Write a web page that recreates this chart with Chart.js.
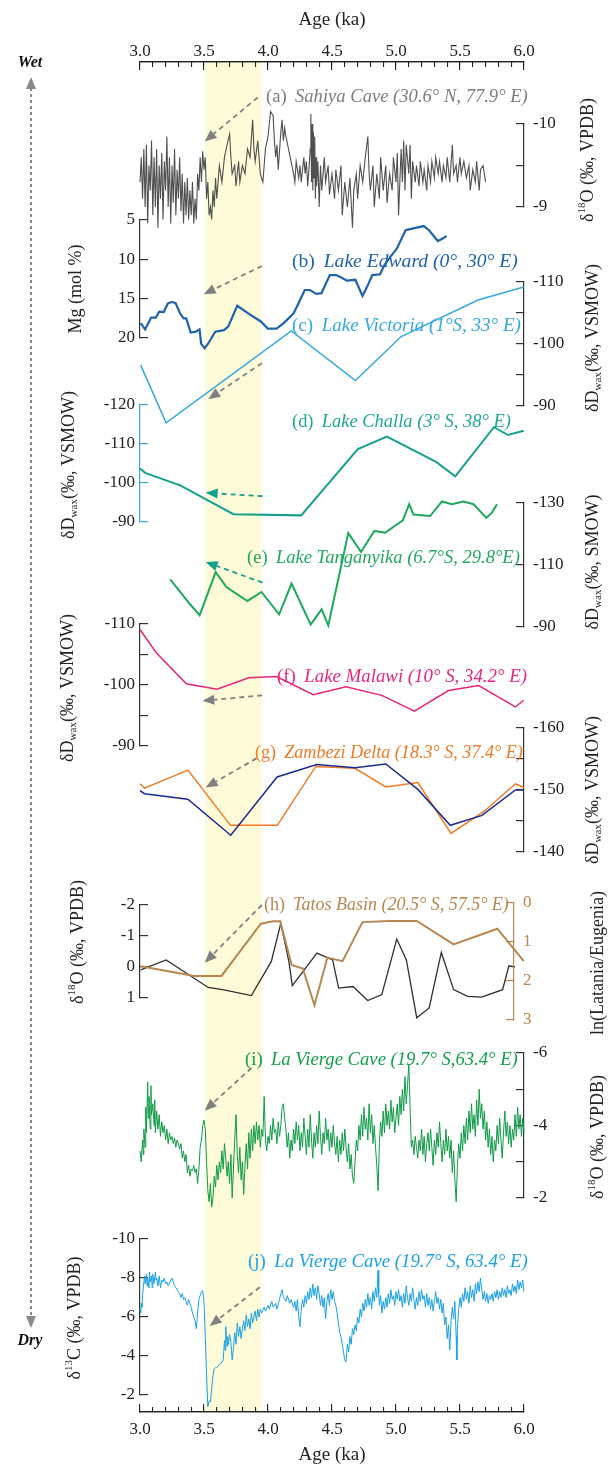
<!DOCTYPE html>
<html>
<head>
<meta charset="utf-8">
<script src="https://cdn.jsdelivr.net/npm/chart.js@4.4.1/dist/chart.umd.min.js"></script>
<style>
  html, body { margin: 0; padding: 0; background: #fff; }
  #wrap { position: relative; width: 608px; height: 1467px; overflow: hidden; }
  canvas { position: absolute; left: 0; }
</style>
</head>
<body>
<div id="wrap"></div>
<script>
// ---------- data (age in ka, value) ----------
const ageTicks = [3.0, 3.5, 4.0, 4.5, 5.0, 5.5, 6.0];
const ageMinorTicks = [3.0,3.1,3.2,3.3,3.4,3.5,3.6,3.7,3.8,3.9,4.0,4.1,4.2,4.3,4.4,4.5,4.6,4.7,4.8,4.9,5.0,5.1,5.2,5.3,5.4,5.5,5.6,5.7,5.8,5.9,6.0];
const yellowBand = [3.51, 3.95];

const sahiyaD18O = [[3.00,-9.3],[3.01,-9.6],[3.02,-9.1],[3.03,-9.7],[3.04,-9.0],[3.05,-9.75],[3.06,-8.8],[3.07,-9.5],[3.08,-9.2],[3.09,-9.8],[3.10,-8.9],[3.11,-9.6],[3.12,-9.0],[3.13,-9.7],[3.14,-8.75],[3.15,-9.5],[3.16,-9.1],[3.17,-9.65],[3.18,-8.85],[3.19,-9.55],[3.20,-9.2],[3.21,-9.85],[3.22,-9.0],[3.23,-9.6],[3.24,-8.8],[3.25,-9.5],[3.26,-9.05],[3.27,-9.7],[3.28,-8.9],[3.29,-9.45],[3.30,-9.1],[3.31,-9.6],[3.32,-8.95],[3.33,-9.4],[3.34,-8.8],[3.35,-9.3],[3.36,-8.9],[3.37,-9.35],[3.38,-8.85],[3.39,-9.2],[3.40,-8.9],[3.41,-9.3],[3.42,-8.8],[3.43,-9.1],[3.44,-8.85],[3.45,-9.4],[3.46,-9.2],[3.47,-9.6],[3.48,-9.3],[3.49,-9.67],[3.50,-9.45],[3.51,-9.6],[3.52,-9.1],[3.53,-9.3],[3.54,-8.9],[3.55,-9.0],[3.56,-8.85],[3.57,-9.2],[3.58,-9.0],[3.59,-9.35],[3.60,-9.1],[3.62,-9.5],[3.64,-9.3],[3.66,-9.6],[3.68,-9.75],[3.70,-9.88],[3.71,-9.6],[3.72,-9.4],[3.74,-9.5],[3.75,-9.25],[3.77,-9.55],[3.78,-9.3],[3.80,-9.5],[3.82,-9.4],[3.84,-9.7],[3.86,-9.6],[3.88,-10.05],[3.89,-9.7],[3.90,-9.55],[3.92,-9.8],[3.94,-9.4],[3.96,-9.3],[3.98,-9.7],[4.00,-9.85],[4.02,-10.15],[4.04,-10.1],[4.05,-9.8],[4.06,-9.6],[4.07,-9.75],[4.08,-9.45],[4.10,-9.9],[4.11,-10.05],[4.12,-9.8],[4.13,-9.95],[4.14,-9.85],[4.16,-9.7],[4.18,-9.55],[4.20,-9.4],[4.21,-9.3],[4.22,-9.55],[4.24,-9.35],[4.25,-9.5],[4.26,-9.3],[4.28,-9.6],[4.29,-9.4],[4.30,-9.55],[4.31,-9.25],[4.32,-9.45],[4.33,-9.7],[4.335,-10.12],[4.34,-9.3],[4.345,-10.0],[4.35,-9.2],[4.355,-9.9],[4.36,-9.35],[4.365,-9.85],[4.37,-9.1],[4.375,-9.6],[4.38,-9.25],[4.39,-9.55],[4.40,-9.0],[4.41,-9.5],[4.42,-9.2],[4.44,-9.6],[4.45,-9.3],[4.47,-9.5],[4.48,-9.15],[4.50,-9.4],[4.52,-9.1],[4.53,-9.45],[4.55,-9.2],[4.57,-9.5],[4.58,-8.9],[4.60,-9.3],[4.62,-9.0],[4.64,-9.35],[4.66,-8.75],[4.67,-9.2],[4.69,-9.4],[4.70,-9.1],[4.72,-9.5],[4.74,-9.3],[4.76,-9.6],[4.78,-9.85],[4.79,-9.4],[4.80,-9.2],[4.82,-9.5],[4.83,-9.0],[4.85,-9.4],[4.87,-9.1],[4.88,-9.6],[4.90,-9.2],[4.92,-9.5],[4.93,-9.05],[4.95,-9.4],[4.97,-9.2],[4.98,-9.6],[5.00,-9.3],[5.01,-9.65],[5.02,-8.9],[5.04,-9.7],[5.05,-9.3],[5.06,-9.8],[5.07,-9.2],[5.08,-9.75],[5.10,-9.4],[5.11,-9.75],[5.12,-9.1],[5.13,-9.55],[5.15,-9.3],[5.16,-9.5],[5.18,-9.25],[5.19,-9.55],[5.21,-9.3],[5.22,-9.45],[5.24,-9.2],[5.25,-9.5],[5.27,-9.3],[5.28,-9.55],[5.30,-9.35],[5.31,-9.6],[5.33,-9.4],[5.34,-9.55],[5.36,-9.3],[5.37,-9.5],[5.39,-9.35],[5.40,-9.6],[5.42,-9.3],[5.44,-9.75],[5.45,-9.4],[5.47,-9.5],[5.48,-9.3],[5.50,-9.6],[5.51,-9.4],[5.53,-9.55],[5.55,-9.35],[5.57,-9.5],[5.58,-9.2],[5.60,-9.45],[5.62,-9.3],[5.63,-9.55],[5.65,-9.2],[5.66,-9.45],[5.68,-9.5],[5.70,-9.3]];

const edwardMg = [[3.005,18.1],[3.04,18.9],[3.087,17.4],[3.123,17.4],[3.15,16.65],[3.186,16.7],[3.218,15.6],[3.251,15.4],[3.279,15.6],[3.314,16.9],[3.341,17.5],[3.361,17.5],[3.396,19.3],[3.437,19.2],[3.465,18.9],[3.478,20.75],[3.506,21.3],[3.533,20.7],[3.588,19.2],[3.656,19.0],[3.689,18.55],[3.76,15.9],[3.848,16.9],[3.944,17.9],[3.998,18.8],[4.067,18.8],[4.122,18.1],[4.199,16.9],[4.232,15.8],[4.287,13.9],[4.327,13.9],[4.377,14.4],[4.418,14.3],[4.483,12.0],[4.533,12.0],[4.56,12.2],[4.615,12.7],[4.683,12.6],[4.738,14.65],[4.774,13.5],[4.815,12.0],[4.875,11.9],[4.911,10.7],[4.957,9.66],[5.004,8.7],[5.075,6.3],[5.135,6.06],[5.217,5.77],[5.258,6.3],[5.327,7.67],[5.368,7.33],[5.395,7.03]];

const victoriaDwax = [[3.005,-96.6],[3.204,-87.3],[4.182,-102.1],[4.683,-94.1],[5.04,-101.2],[5.641,-107.1],[5.998,-109.2]];

const challaDwax = [[3.0,-103.7],[3.04,-102.6],[3.314,-99.4],[3.73,-92.0],[4.259,-91.7],[4.702,-108.7],[4.929,-111.9],[5.313,-105.4],[5.463,-101.7],[5.765,-114.3],[5.875,-112.3],[5.998,-113.4]];

const tanganyikaDwax = [[3.236,-105.4],[3.388,-97.5],[3.466,-93.8],[3.591,-107.7],[3.675,-102.9],[3.839,-98.4],[3.949,-101.3],[4.087,-94.1],[4.184,-104.0],[4.333,-90.8],[4.419,-95.7],[4.471,-90.5],[4.627,-120.3],[4.727,-114.2],[4.831,-121.0],[4.915,-120.4],[5.053,-124.4],[5.103,-129.6],[5.136,-126.3],[5.267,-125.8],[5.359,-130.5],[5.437,-129.6],[5.528,-130.5],[5.606,-129.6],[5.706,-125.2],[5.75,-126.9],[5.789,-129.6]];

const malawiDwax = [[3.0,-109.1],[3.127,-105.3],[3.362,-100.2],[3.602,-99.3],[3.85,-101.2],[4.066,-101.4],[4.353,-98.4],[4.609,-99.7],[4.889,-98.3],[5.144,-95.7],[5.41,-99.1],[5.645,-99.9],[5.933,-96.4],[5.998,-97.5]];

const zambeziA = [[3.0,-149.9],[3.035,-149.4],[3.374,-148.5],[3.709,-142.7],[4.071,-152.1],[4.38,-154.1],[4.68,-153.6],[4.92,-154.2],[5.171,-150.1],[5.424,-144.3],[5.672,-145.9],[5.933,-150.0],[6.0,-150.0]];
const zambeziB = [[3.0,-151.0],[3.035,-150.3],[3.374,-153.2],[3.707,-144.3],[4.073,-144.3],[4.373,-153.8],[4.68,-153.5],[4.92,-150.5],[5.171,-151.2],[5.43,-143.0],[5.685,-146.5],[5.933,-151.0],[6.0,-150.4]];

const tatosD18O = [[3.005,0.09],[3.204,-0.23],[3.533,0.66],[3.656,0.74],[3.87,0.92],[4.026,-0.18],[4.1,-1.41],[4.163,-0.18],[4.19,0.60],[4.382,-0.45],[4.505,-0.23],[4.552,0.68],[4.664,0.63],[4.779,1.08],[4.889,0.89],[5.006,-0.90],[5.081,-0.23],[5.162,1.64],[5.259,1.32],[5.354,-0.47],[5.45,0.73],[5.559,0.95],[5.669,0.97],[5.833,0.73],[5.882,-0.04],[5.929,0.0]];
const tatosLnLE = [[3.005,1.62],[3.424,1.87],[3.637,1.87],[3.944,0.53],[4.04,0.47],[4.095,0.47],[4.185,1.59],[4.272,1.68],[4.363,2.62],[4.464,1.40],[4.582,1.49],[4.738,0.49],[4.957,0.46],[5.162,0.46],[5.45,1.06],[5.792,0.66],[5.998,1.49]];

const vierged18O = [[3.00,-3.3],[3.01,-3.0],[3.02,-3.6],[3.025,-3.2],[3.03,-3.9],[3.04,-3.4],[3.045,-4.5],[3.05,-3.8],[3.06,-5.2],[3.065,-4.2],[3.07,-4.8],[3.08,-3.9],[3.085,-5.1],[3.09,-4.3],[3.10,-4.6],[3.11,-4.0],[3.115,-4.7],[3.12,-3.8],[3.13,-4.4],[3.14,-3.9],[3.15,-4.3],[3.16,-3.7],[3.17,-4.1],[3.18,-3.8],[3.19,-4.0],[3.20,-3.6],[3.21,-3.9],[3.22,-3.5],[3.23,-3.8],[3.24,-3.6],[3.25,-3.7],[3.26,-3.5],[3.27,-3.65],[3.28,-3.4],[3.29,-3.6],[3.30,-3.5],[3.31,-3.35],[3.32,-3.5],[3.33,-3.1],[3.34,-3.3],[3.35,-3.0],[3.36,-3.2],[3.37,-2.7],[3.38,-2.9],[3.39,-2.6],[3.40,-2.8],[3.41,-2.75],[3.42,-2.9],[3.43,-2.7],[3.44,-2.8],[3.45,-2.4],[3.46,-2.8],[3.47,-3.4],[3.48,-3.6],[3.49,-4.0],[3.50,-4.15],[3.51,-3.9],[3.52,-3.0],[3.53,-2.2],[3.54,-1.9],[3.55,-2.4],[3.56,-1.75],[3.57,-2.0],[3.58,-2.6],[3.59,-2.3],[3.60,-2.9],[3.61,-2.5],[3.62,-3.0],[3.63,-2.7],[3.64,-3.3],[3.65,-2.8],[3.66,-3.5],[3.67,-3.1],[3.68,-2.6],[3.69,-3.0],[3.70,-2.4],[3.71,-3.2],[3.72,-2.0],[3.73,-2.8],[3.74,-3.6],[3.75,-4.3],[3.76,-3.2],[3.77,-2.7],[3.78,-3.4],[3.79,-2.5],[3.80,-3.0],[3.81,-2.1],[3.82,-2.9],[3.83,-3.5],[3.84,-2.8],[3.85,-3.8],[3.86,-3.1],[3.87,-3.9],[3.88,-3.3],[3.89,-4.0],[3.90,-3.5],[3.91,-4.1],[3.92,-3.6],[3.93,-4.0],[3.94,-3.4],[3.95,-3.9],[3.96,-3.7],[3.97,-4.8],[3.98,-3.6],[3.99,-3.3],[4.00,-3.7],[4.01,-3.5],[4.02,-4.0],[4.03,-3.6],[4.04,-4.2],[4.05,-3.8],[4.06,-3.9],[4.07,-3.5],[4.08,-4.1],[4.09,-3.7],[4.10,-4.0],[4.11,-4.5],[4.12,-4.6],[4.13,-4.2],[4.14,-3.9],[4.15,-3.4],[4.16,-3.8],[4.17,-3.1],[4.18,-3.6],[4.19,-3.3],[4.20,-3.9],[4.21,-3.5],[4.22,-4.1],[4.23,-3.6],[4.24,-4.0],[4.25,-3.3],[4.26,-3.8],[4.27,-3.4],[4.28,-4.2],[4.29,-3.7],[4.30,-3.2],[4.31,-3.9],[4.32,-3.4],[4.33,-4.3],[4.34,-3.6],[4.35,-3.1],[4.36,-3.8],[4.37,-3.4],[4.38,-4.0],[4.39,-3.5],[4.40,-4.4],[4.41,-3.7],[4.42,-3.2],[4.43,-3.8],[4.44,-3.5],[4.45,-4.2],[4.46,-3.6],[4.47,-3.9],[4.48,-3.3],[4.49,-3.8],[4.50,-3.4],[4.51,-4.0],[4.52,-3.5],[4.53,-3.2],[4.54,-3.7],[4.55,-3.0],[4.56,-3.6],[4.57,-3.2],[4.58,-3.8],[4.59,-3.3],[4.60,-3.9],[4.61,-3.4],[4.62,-3.0],[4.63,-3.5],[4.64,-2.8],[4.65,-3.2],[4.66,-2.6],[4.67,-2.4],[4.68,-3.0],[4.69,-3.6],[4.70,-3.3],[4.71,-4.0],[4.72,-3.6],[4.73,-4.3],[4.74,-3.7],[4.75,-4.5],[4.76,-3.9],[4.77,-4.2],[4.78,-3.6],[4.79,-4.6],[4.80,-3.8],[4.81,-4.3],[4.82,-3.5],[4.83,-4.0],[4.84,-3.4],[4.85,-2.9],[4.86,-2.2],[4.87,-3.5],[4.88,-4.1],[4.89,-3.7],[4.90,-4.4],[4.91,-3.8],[4.92,-4.6],[4.93,-4.0],[4.94,-4.4],[4.95,-3.9],[4.96,-4.7],[4.97,-4.1],[4.98,-4.5],[4.99,-3.8],[5.00,-4.2],[5.01,-4.6],[5.02,-4.0],[5.03,-4.8],[5.04,-4.3],[5.05,-5.0],[5.06,-4.4],[5.07,-5.35],[5.08,-4.6],[5.09,-5.1],[5.10,-5.7],[5.11,-4.5],[5.12,-3.4],[5.13,-3.6],[5.14,-3.2],[5.15,-3.7],[5.16,-3.4],[5.17,-3.1],[5.18,-3.6],[5.19,-3.3],[5.20,-3.9],[5.21,-3.2],[5.22,-3.7],[5.23,-3.0],[5.24,-3.5],[5.25,-3.8],[5.26,-3.3],[5.27,-3.9],[5.28,-3.4],[5.29,-2.9],[5.30,-3.6],[5.31,-3.2],[5.32,-3.8],[5.33,-3.4],[5.34,-4.1],[5.35,-3.5],[5.36,-3.0],[5.37,-3.6],[5.38,-3.2],[5.39,-3.9],[5.40,-3.3],[5.41,-3.7],[5.42,-3.1],[5.43,-3.6],[5.44,-2.7],[5.45,-3.3],[5.46,-2.5],[5.47,-1.9],[5.48,-2.9],[5.49,-3.5],[5.50,-3.1],[5.51,-3.8],[5.52,-3.3],[5.53,-4.0],[5.54,-3.5],[5.55,-4.2],[5.56,-3.6],[5.57,-4.4],[5.58,-3.8],[5.59,-4.6],[5.60,-3.9],[5.61,-4.3],[5.62,-3.7],[5.63,-4.7],[5.64,-4.0],[5.65,-5.0],[5.66,-4.2],[5.67,-4.6],[5.68,-3.9],[5.69,-4.4],[5.70,-3.6],[5.71,-4.1],[5.72,-3.4],[5.73,-3.9],[5.74,-3.2],[5.75,-3.7],[5.76,-3.0],[5.77,-3.6],[5.78,-3.3],[5.79,-4.0],[5.80,-3.5],[5.81,-4.2],[5.82,-3.6],[5.83,-3.1],[5.84,-3.8],[5.85,-4.4],[5.86,-3.7],[5.87,-4.1],[5.88,-3.5],[5.89,-4.0],[5.90,-3.4],[5.91,-3.9],[5.92,-3.6],[5.93,-4.3],[5.94,-3.7],[5.95,-4.5],[5.96,-3.9],[5.97,-4.3],[5.98,-3.7],[5.99,-4.2],[6.00,-3.8]];

const vierged13C = [[3.000,-6.4],[3.005,-6.2],[3.01,-6.7],[3.015,-6.5],[3.02,-7.1],[3.03,-7.8],[3.035,-8.1],[3.04,-7.7],[3.05,-8.2],[3.055,-7.6],[3.06,-8.0],[3.07,-7.5],[3.075,-8.3],[3.08,-7.8],[3.09,-8.1],[3.095,-7.5],[3.10,-8.2],[3.11,-7.7],[3.12,-8.3],[3.125,-7.9],[3.13,-8.0],[3.14,-7.6],[3.15,-8.1],[3.16,-7.5],[3.17,-7.9],[3.18,-7.8],[3.19,-8.0],[3.20,-7.7],[3.21,-7.8],[3.22,-7.6],[3.23,-7.7],[3.24,-7.9],[3.25,-8.0],[3.26,-7.8],[3.27,-7.6],[3.28,-7.5],[3.30,-7.3],[3.31,-7.2],[3.32,-7.0],[3.33,-7.2],[3.34,-6.9],[3.35,-7.0],[3.36,-6.8],[3.37,-6.6],[3.38,-6.9],[3.39,-6.7],[3.40,-6.5],[3.41,-6.2],[3.42,-6.0],[3.43,-5.8],[3.44,-5.4],[3.45,-6.2],[3.46,-6.9],[3.47,-7.1],[3.48,-7.3],[3.49,-7.35],[3.50,-6.8],[3.51,-5.0],[3.52,-3.0],[3.53,-1.4],[3.54,-1.7],[3.55,-1.65],[3.56,-2.3],[3.57,-3.0],[3.58,-3.35],[3.59,-3.4],[3.60,-3.4],[3.61,-3.5],[3.62,-3.55],[3.63,-3.6],[3.64,-3.7],[3.65,-3.8],[3.66,-4.8],[3.665,-4.3],[3.67,-5.5],[3.68,-4.5],[3.685,-5.0],[3.69,-4.6],[3.70,-5.1],[3.71,-4.7],[3.72,-3.8],[3.73,-4.4],[3.74,-5.2],[3.75,-4.6],[3.76,-5.7],[3.77,-5.0],[3.78,-5.5],[3.79,-4.9],[3.80,-5.4],[3.81,-5.8],[3.82,-5.3],[3.83,-6.1],[3.84,-5.5],[3.85,-5.9],[3.86,-5.4],[3.87,-6.2],[3.88,-5.7],[3.89,-6.0],[3.90,-6.3],[3.91,-5.8],[3.92,-6.4],[3.93,-6.0],[3.94,-6.4],[3.95,-6.2],[3.97,-6.5],[3.98,-6.3],[4.00,-6.6],[4.01,-6.4],[4.03,-6.8],[4.04,-6.5],[4.06,-6.7],[4.07,-6.4],[4.09,-6.9],[4.10,-7.2],[4.11,-7.4],[4.12,-7.0],[4.14,-6.8],[4.15,-7.1],[4.17,-6.7],[4.18,-6.9],[4.20,-6.5],[4.21,-6.8],[4.22,-6.3],[4.23,-6.9],[4.24,-6.0],[4.25,-5.5],[4.26,-6.4],[4.27,-6.9],[4.28,-6.5],[4.29,-7.1],[4.30,-6.7],[4.31,-7.3],[4.32,-6.9],[4.33,-7.5],[4.34,-7.0],[4.35,-7.7],[4.36,-7.1],[4.37,-7.5],[4.38,-6.9],[4.39,-7.6],[4.40,-7.2],[4.41,-6.6],[4.42,-7.1],[4.43,-6.5],[4.44,-7.0],[4.45,-5.9],[4.46,-6.8],[4.47,-7.2],[4.48,-6.6],[4.49,-7.4],[4.50,-6.9],[4.51,-7.3],[4.52,-6.8],[4.53,-6.6],[4.54,-6.2],[4.55,-5.7],[4.56,-5.2],[4.57,-5.0],[4.58,-4.6],[4.59,-4.2],[4.60,-3.8],[4.61,-3.7],[4.62,-4.6],[4.63,-4.2],[4.64,-5.0],[4.65,-4.6],[4.66,-5.4],[4.67,-5.1],[4.68,-5.6],[4.69,-5.3],[4.70,-6.0],[4.71,-5.7],[4.72,-6.4],[4.73,-6.0],[4.74,-6.7],[4.75,-6.3],[4.76,-6.9],[4.77,-6.5],[4.78,-7.2],[4.79,-6.6],[4.80,-7.0],[4.81,-6.4],[4.82,-7.3],[4.83,-6.8],[4.84,-7.5],[4.85,-7.0],[4.86,-8.4],[4.865,-7.2],[4.87,-6.6],[4.88,-7.1],[4.89,-6.2],[4.90,-6.8],[4.91,-6.4],[4.92,-7.0],[4.93,-6.5],[4.94,-7.2],[4.95,-6.7],[4.96,-7.4],[4.97,-6.9],[4.98,-7.1],[4.99,-6.6],[5.00,-7.3],[5.01,-6.9],[5.02,-7.4],[5.03,-6.8],[5.04,-7.1],[5.05,-6.5],[5.06,-7.2],[5.07,-6.7],[5.08,-7.6],[5.09,-7.0],[5.10,-6.6],[5.11,-7.2],[5.12,-6.8],[5.13,-7.5],[5.14,-6.9],[5.15,-6.4],[5.16,-7.0],[5.17,-6.6],[5.18,-7.3],[5.19,-6.8],[5.20,-7.4],[5.21,-6.9],[5.22,-7.1],[5.23,-6.5],[5.24,-7.2],[5.25,-6.6],[5.26,-7.0],[5.27,-6.4],[5.28,-6.9],[5.29,-6.3],[5.30,-6.8],[5.31,-7.3],[5.32,-6.7],[5.33,-7.0],[5.34,-6.4],[5.35,-6.9],[5.36,-6.2],[5.37,-6.7],[5.38,-5.6],[5.39,-6.0],[5.40,-4.9],[5.41,-5.6],[5.42,-4.3],[5.43,-5.8],[5.44,-6.5],[5.45,-5.9],[5.46,-6.8],[5.47,-5.0],[5.475,-3.8],[5.48,-5.5],[5.49,-6.4],[5.50,-7.0],[5.51,-6.5],[5.52,-7.2],[5.53,-6.8],[5.54,-7.5],[5.55,-6.9],[5.56,-7.3],[5.57,-6.7],[5.58,-7.6],[5.59,-7.0],[5.60,-7.4],[5.61,-6.8],[5.62,-7.7],[5.63,-7.2],[5.64,-7.8],[5.65,-7.3],[5.66,-8.0],[5.67,-7.4],[5.68,-6.9],[5.69,-7.3],[5.70,-6.8],[5.71,-7.2],[5.72,-6.7],[5.73,-7.1],[5.74,-6.9],[5.75,-7.2],[5.76,-6.8],[5.77,-7.3],[5.78,-7.0],[5.79,-7.4],[5.80,-6.9],[5.81,-7.3],[5.82,-7.0],[5.83,-7.5],[5.84,-7.1],[5.85,-7.4],[5.86,-7.0],[5.87,-7.6],[5.88,-7.2],[5.89,-7.4],[5.90,-7.1],[5.91,-7.7],[5.92,-7.3],[5.93,-7.6],[5.94,-7.2],[5.95,-7.9],[5.96,-7.4],[5.97,-7.8],[5.98,-7.5],[5.99,-7.9],[6.00,-7.3]];

// ---------- layout ----------
const FONT = '"Liberation Serif", "Times New Roman", serif';
const W = 608, H = 1467;
const X0 = 140, X1 = 524;          // pixel of 3.0 ka and 6.0 ka
const PX_PER_KA = (X1 - X0) / 3;
const PAD = 40;
const wrap = document.getElementById('wrap');

function addCanvas(top, height) {
  const c = document.createElement('canvas');
  c.width = W; c.height = height;
  c.style.top = top + 'px';
  c.style.width = W + 'px'; c.style.height = height + 'px';
  wrap.appendChild(c);
  return c;
}

// rotated rich text (supports sup/sub parts), centered on (cx, cy)
function drawRich(ctx, parts, cx, cy, size, color) {
  ctx.save();
  ctx.translate(cx, cy);
  ctx.rotate(-Math.PI / 2);
  ctx.fillStyle = color;
  ctx.textBaseline = 'middle';
  const fonts = parts.map(p => (p[1] ? Math.round(size * 0.62) : size) + 'px ' + FONT);
  let w = 0;
  parts.forEach((p, i) => { ctx.font = fonts[i]; w += ctx.measureText(p[0]).width; });
  let x = -w / 2;
  parts.forEach((p, i) => {
    ctx.font = fonts[i];
    const dy = p[1] === 'sup' ? -size * 0.33 : p[1] === 'sub' ? size * 0.3 : 0;
    ctx.textAlign = 'left';
    ctx.fillText(p[0], x, dy);
    x += ctx.measureText(p[0]).width;
  });
  ctx.restore();
}

function drawLabel(ctx, lab, offY) {
  ctx.save();
  const widthAt = s => {
    ctx.font = s + 'px ' + FONT;
    const a = ctx.measureText(lab.tag).width;
    ctx.font = 'italic ' + s + 'px ' + FONT;
    return a + s * 0.45 + ctx.measureText(lab.name).width;
  };
  const size = 16 * (lab.x1 - lab.x0) / widthAt(16);
  ctx.fillStyle = lab.color;
  ctx.textBaseline = 'middle';
  ctx.textAlign = 'left';
  ctx.font = size + 'px ' + FONT;
  ctx.fillText(lab.tag, lab.x0, lab.y - offY);
  const x = lab.x0 + ctx.measureText(lab.tag).width + size * 0.45;
  ctx.font = 'italic ' + size + 'px ' + FONT;
  ctx.fillText(lab.name, x, lab.y - offY);
  ctx.restore();
}

function drawArrow(ctx, x1, y1, x2, y2, color) {
  const ang = Math.atan2(y2 - y1, x2 - x1), L = 12, HW = 5;
  const bx = x2 - L * Math.cos(ang), by = y2 - L * Math.sin(ang);
  ctx.save();
  ctx.strokeStyle = color; ctx.fillStyle = color; ctx.lineWidth = 1.8;
  ctx.setLineDash([5, 4]);
  ctx.beginPath(); ctx.moveTo(x1, y1); ctx.lineTo(bx, by); ctx.stroke();
  ctx.setLineDash([]);
  ctx.beginPath();
  ctx.moveTo(x2, y2);
  ctx.lineTo(bx + HW * Math.sin(ang), by - HW * Math.cos(ang));
  ctx.lineTo(bx - HW * Math.sin(ang), by + HW * Math.cos(ang));
  ctx.closePath(); ctx.fill();
  ctx.restore();
}

const DWAX = (tail) => [['δD', ''], ['wax', 'sub'], [tail, '']];
const D18O = [['δ', ''], ['18', 'sup'], ['O (‰, VPDB)', '']];

const panels = [
  { side: 'right', yTop: 124, yBottom: 207, min: -10, max: -9, ticks: [-10, -9.5, -9], labels: [-10, -9],
    series: [{ data: sahiyaD18O, color: '#505050', width: 1.1 }],
    title: { parts: D18O, x: 588, y: 160 },
    label: { tag: '(a)', name: 'Sahiya Cave (30.6° N, 77.9° E)', x0: 266, x1: 528, y: 97, color: '#7d7d7d' },
    arrow: { from: [3.92, -10.32], to: [3.505, -9.79], color: '#808080' } },
  { side: 'left', yTop: 220, yBottom: 338, min: 5, max: 20, ticks: [5, 10, 15, 20], labels: [5, 10, 15, 20],
    series: [{ data: edwardMg, color: '#1f62ad', width: 2.2 }],
    title: { parts: [['Mg (mol %)', '']], x: 76, y: 289 },
    label: { tag: '(b)', name: 'Lake Edward (0°, 30° E)', x0: 292, x1: 518, y: 262, color: '#1f62ad' },
    arrow: { from: [3.952, 10.85], to: [3.497, 14.44], color: '#808080' } },
  { side: 'right', yTop: 282, yBottom: 406, min: -110, max: -90, ticks: [-110, -105, -100, -95, -90], labels: [-110, -100, -90],
    series: [{ data: victoriaDwax, color: '#35a8e2', width: 1.5 }],
    title: { parts: DWAX('(‰, VSMOW)'), x: 593, y: 338 },
    label: { tag: '(c)', name: 'Lake Victoria (1°S, 33° E)', x0: 292, x1: 521, y: 326, color: '#35a8e2' },
    arrow: { from: [3.952, -96.9], to: [3.533, -91.1], color: '#808080' } },
  { side: 'left', yTop: 405, yBottom: 522, min: -120, max: -90, ticks: [-120, -110, -100, -90], labels: [-120, -110, -100, -90],
    axisColor: '#35a8e2',
    series: [{ data: challaDwax, color: '#16a08e', width: 2 }],
    title: { parts: DWAX('(‰, VSMOW)'), x: 69, y: 465 },
    label: { tag: '(d)', name: 'Lake Challa (3° S, 38° E)', x0: 292, x1: 511, y: 422, color: '#1ea596' },
    arrow: { from: [3.957, -96.6], to: [3.513, -97.5], color: '#16a08e' } },
  { side: 'right', yTop: 503, yBottom: 627, min: -130, max: -90, ticks: [-130, -110, -90], labels: [-130, -110, -90],
    series: [{ data: tanganyikaDwax, color: '#1fa85e', width: 2 }],
    title: { parts: DWAX('(‰, SMOW)'), x: 593, y: 562 },
    label: { tag: '(e)', name: 'Lake Tanganyika (6.7°S, 29.8°E)', x0: 247, x1: 520, y: 558, color: '#22a862' },
    arrow: { from: [3.957, -104.3], to: [3.513, -111.0], color: '#16a08e' } },
  { side: 'left', yTop: 624, yBottom: 746, min: -110, max: -90, ticks: [-110, -105, -100, -95, -90], labels: [-110, -100, -90],
    series: [{ data: malawiDwax, color: '#e8257a', width: 1.5 }],
    title: { parts: DWAX('(‰, VSMOW)'), x: 68, y: 688 },
    label: { tag: '(f)', name: 'Lake Malawi (10° S, 34.2° E)', x0: 277, x1: 527, y: 677, color: '#e8257a' },
    arrow: { from: [3.954, -98.3], to: [3.487, -97.4], color: '#808080' } },
  { side: 'right', yTop: 728, yBottom: 852, min: -160, max: -140, ticks: [-160, -155, -150, -145, -140], labels: [-160, -150, -140],
    series: [{ data: zambeziA, color: '#1b2c8f', width: 1.5 }, { data: zambeziB, color: '#f07a26', width: 1.5 }],
    title: { parts: DWAX('(‰, VSMOW)'), x: 593, y: 790 },
    label: { tag: '(g)', name: 'Zambezi Delta (18.3° S, 37.4° E)', x0: 255, x1: 523, y: 753, color: '#f07a26' },
    arrow: { from: [3.91, -155.1], to: [3.513, -150.4], color: '#808080' } },
  { side: 'left', yTop: 905, yBottom: 998, min: -2, max: 1, ticks: [-2, -1, 0, 1], labels: [-2, -1, 0, 1],
    series: [{ data: tatosD18O, color: '#2e2e2e', width: 1.3 }],
    title: { parts: D18O, x: 78, y: 942 },
    label: { tag: '(h)', name: 'Tatos Basin (20.5° S, 57.5° E)', x0: 264, x1: 509, y: 905, color: '#b8874f' },
    arrow: { from: [3.952, -2.0], to: [3.506, -0.14], color: '#808080' } },
  { side: 'right', right: 514, yTop: 903, yBottom: 1020, min: 0, max: 3, ticks: [0, 1, 2, 3], labels: [0, 1, 2, 3],
    axisColor: '#b8874f', labelColor: '#b8874f',
    series: [{ data: tatosLnLE, color: '#b8874f', width: 2 }],
    title: { parts: [['ln(Latania/Eugenia)', '']], x: 598, y: 963 } },
  { side: 'right', yTop: 1053, yBottom: 1198, min: -6, max: -2, ticks: [-6, -5, -4, -3, -2], labels: [-6, -4, -2],
    series: [{ data: vierged18O, color: '#0f9a46', width: 1 }],
    title: { parts: D18O, x: 598, y: 1137 },
    label: { tag: '(i)', name: 'La Vierge Cave (19.7° S,63.4° E)', x0: 245, x1: 518, y: 1060, color: '#12a04a' },
    arrow: { from: [3.871, -5.59], to: [3.505, -4.41], color: '#808080' } },
  { side: 'left', yTop: 1239, yBottom: 1395, min: -10, max: -2, ticks: [-10, -8, -6, -4, -2], labels: [-10, -8, -6, -4, -2],
    series: [{ data: vierged13C, color: '#1aa0e6', width: 1 }],
    title: { parts: [['δ', ''], ['13', 'sup'], ['C (‰, VPDB)', '']], x: 75, y: 1318 },
    label: { tag: '(j)', name: 'La Vierge Cave (19.7° S, 63.4° E)', x0: 248, x1: 528, y: 1262, color: '#1aa0e6' },
    arrow: { from: [3.936, -7.53], to: [3.544, -5.54], color: '#808080' } }
];

// ---------- frame: age axes, highlight band, wet/dry arrow ----------
function xAxis(pos, major) {
  const common = {
    type: 'linear', position: pos, min: 3, max: 6, weight: major ? 1 : 0,
    border: { display: true, color: '#222', width: 1.2 },
    grid: { drawOnChartArea: false, drawTicks: true, tickLength: major ? -8 : -5, color: '#222', lineWidth: 1.1 },
    afterBuildTicks: s => { s.ticks = (major ? ageTicks : ageMinorTicks).map(v => ({ value: v })); }
  };
  if (!major) {
    common.ticks = { display: false };
    common.afterFit = s => { s.height = 0; };
    return common;
  }
  common.afterFit = s => { s.height = pos === 'top' ? 62 : H - 1412; };
  common.ticks = { autoSkip: false, maxRotation: 0, padding: pos === 'top' ? 8 : 15, color: '#222',
                   font: { family: FONT, size: 17 }, callback: v => v.toFixed(1) };
  common.title = { display: true, text: 'Age (ka)', color: '#222', font: { family: FONT, size: 19 },
                   padding: pos === 'top' ? { top: 9, bottom: 9 } : { top: 1, bottom: 1 } };
  return common;
}

new Chart(addCanvas(0, H), {
  type: 'line',
  data: { datasets: [] },
  options: {
    responsive: false, animation: false, devicePixelRatio: 1, events: [],
    layout: { padding: { left: X0, right: W - X1, top: 0, bottom: 0 } },
    plugins: { legend: { display: false }, tooltip: { enabled: false } },
    scales: {
      xTop: xAxis('top', true), xTopMinor: xAxis('top', false),
      xBot: xAxis('bottom', true), xBotMinor: xAxis('bottom', false),
      y: { type: 'linear', display: false }
    }
  },
  plugins: [{
    id: 'frameDeco',
    beforeDraw(chart) {
      const { ctx, chartArea } = chart, xs = chart.scales.xTop;
      const a = xs.getPixelForValue(yellowBand[0]), b = xs.getPixelForValue(yellowBand[1]);
      ctx.save();
      ctx.fillStyle = '#fdfbd8';
      ctx.fillRect(a, chartArea.top, b - a, chartArea.bottom - chartArea.top);
      ctx.restore();
    },
    afterDraw(chart) {
      const ctx = chart.ctx;
      ctx.save();
      ctx.fillStyle = '#111';
      ctx.font = 'bold italic 16px ' + FONT;
      ctx.textAlign = 'center'; ctx.textBaseline = 'middle';
      ctx.fillText('Wet', 30, 63);
      ctx.fillText('Dry', 30, 1341);
      ctx.strokeStyle = '#8a8a8a'; ctx.fillStyle = '#8a8a8a';
      ctx.lineWidth = 2; ctx.setLineDash([3, 3]);
      ctx.beginPath(); ctx.moveTo(31, 88); ctx.lineTo(31, 1318); ctx.stroke();
      ctx.setLineDash([]);
      ctx.beginPath(); ctx.moveTo(31, 77); ctx.lineTo(26, 89); ctx.lineTo(36, 89); ctx.closePath(); ctx.fill();
      ctx.beginPath(); ctx.moveTo(31, 1328); ctx.lineTo(26, 1316); ctx.lineTo(36, 1316); ctx.closePath(); ctx.fill();
      ctx.restore();
    }
  }]
});

// ---------- record panels ----------
function makePanel(p) {
  const top = p.yTop - PAD;
  const h = p.yBottom - p.yTop + 2 * PAD;
  const right = p.right || X1;
  const axisColor = p.axisColor || '#333';
  const left = p.side === 'left';
  const canvas = addCanvas(top, h);
  new Chart(canvas, {
    type: 'line',
    data: {
      datasets: p.series.map(s => ({
        data: s.data.map(([x, y]) => ({ x, y })),
        borderColor: s.color, borderWidth: s.width,
        pointRadius: 0, tension: 0, fill: false, clip: false
      }))
    },
    options: {
      responsive: false, animation: false, devicePixelRatio: 1, events: [],
      layout: { padding: { top: PAD, bottom: PAD, left: left ? 0 : X0, right: left ? W - right : 0 } },
      plugins: { legend: { display: false }, tooltip: { enabled: false } },
      scales: {
        x: { type: 'linear', min: 3, max: 3 + (right - X0) / PX_PER_KA, display: false },
        y: {
          type: 'linear', position: p.side, min: p.min, max: p.max, reverse: true,
          afterFit: s => { s.width = left ? X0 : W - right; },
          afterBuildTicks: s => { s.ticks = p.ticks.map(v => ({ value: v })); },
          border: { display: true, color: axisColor, width: 1.2 },
          grid: { drawOnChartArea: false, drawTicks: true, tickLength: -8, color: axisColor, lineWidth: 1.2 },
          ticks: {
            autoSkip: false, padding: left ? 13 : 17, color: p.labelColor || '#222',
            font: { family: FONT, size: 17 },
            callback: v => (p.labels.includes(v) ? String(v) : '')
          }
        }
      }
    },
    plugins: [{
      id: 'panelDeco',
      afterDatasetsDraw(chart) {
        const ctx = chart.ctx, xs = chart.scales.x, ys = chart.scales.y;
        if (p.arrow) {
          drawArrow(ctx, xs.getPixelForValue(p.arrow.from[0]), ys.getPixelForValue(p.arrow.from[1]),
                    xs.getPixelForValue(p.arrow.to[0]), ys.getPixelForValue(p.arrow.to[1]), p.arrow.color);
        }
        if (p.label) drawLabel(ctx, p.label, top);
        if (p.title) drawRich(ctx, p.title.parts, p.title.x, p.title.y - top, 18, '#222');
      }
    }]
  });
}

panels.forEach(makePanel);
</script>
</body>
</html>
